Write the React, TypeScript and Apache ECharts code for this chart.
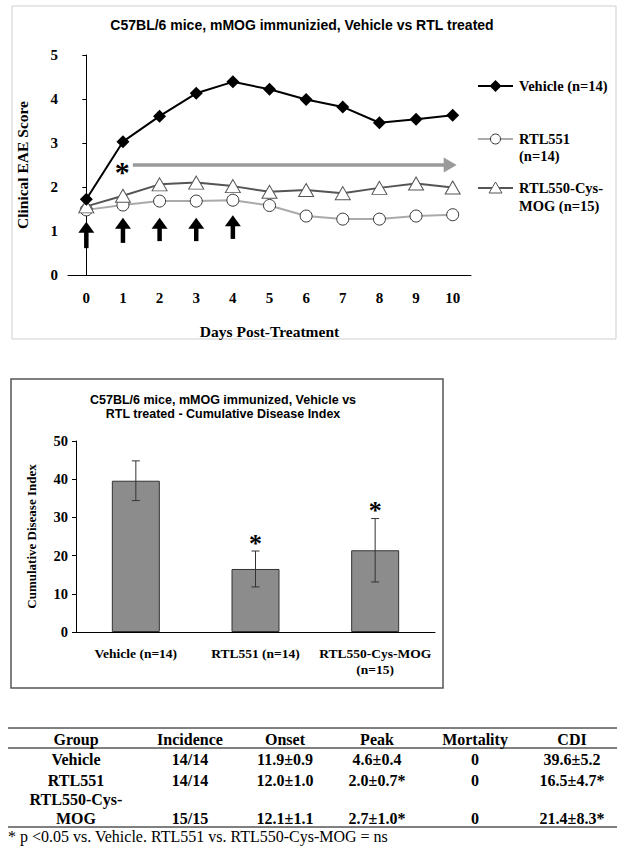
import React, { useEffect, useRef } from "react";
import * as echarts from "echarts";

// ---------- data ----------
const days = ["0", "1", "2", "3", "4", "5", "6", "7", "8", "9", "10"];
const vehicle = [1.72, 3.03, 3.61, 4.13, 4.39, 4.22, 3.99, 3.82, 3.46, 3.54, 3.63];
const rtl551 = [1.48, 1.59, 1.68, 1.68, 1.70, 1.58, 1.34, 1.27, 1.27, 1.34, 1.37];
const rtl550 = [1.56, 1.80, 2.06, 2.10, 2.02, 1.89, 1.93, 1.86, 1.98, 2.08, 1.99];
const seriesNames = ["Vehicle (n=14)", "RTL551\n(n=14)", "RTL550-Cys-\nMOG (n=15)"];

// treatment arrows: day, bottom, top (in score units)
const arrowDays = [0, 1, 2, 3, 4];
const arrowBottom = [0.61, 0.73, 0.77, 0.77, 0.82];
const arrowTop = [1.21, 1.3, 1.3, 1.3, 1.36];
// significance arrow: from day, to day, at score
const sigArrow = [1.27, 10.11, 2.5];
const sigStar = [0.98, 2.5];

const groups = ["Vehicle (n=14)", "RTL551 (n=14)", "RTL550-Cys-MOG\n(n=15)"];
const cdi = [39.6, 16.5, 21.4];
const cdiErr = [5.2, 4.7, 8.3];
const cdiSignificant = [0, 1, 1];

const tableHeader = ["Group", "Incidence", "Onset", "Peak", "Mortality", "CDI"];
const tableGroups = ["Vehicle", "RTL551", "RTL550-Cys-\nMOG"];
const tableIncidence = ["14/14", "14/14", "15/15"];
const tableOnset = ["11.9±0.9", "12.0±1.0", "12.1±1.1"];
const tablePeak = ["4.6±0.4", "2.0±0.7*", "2.7±1.0*"];
const tableMortality = ["0", "0", "0"];
const tableCdi = ["39.6±5.2", "16.5±4.7*", "21.4±8.3*"];
const footnote = "* p <0.05 vs. Vehicle. RTL551 vs. RTL550-Cys-MOG = ns";

const SERIF = "'Liberation Serif', 'Times New Roman', serif";
const SANS = "'Liberation Sans', Arial, sans-serif";

function arrowShape(a: number[], b: number[], color: string, w: number, hl: number, hw: number) {
  const dx = b[0] - a[0];
  const dy = b[1] - a[1];
  const len = Math.sqrt(dx * dx + dy * dy) || 1;
  const ux = dx / len;
  const uy = dy / len;
  const px = -uy;
  const py = ux;
  const bx = b[0] - ux * hl;
  const by = b[1] - uy * hl;
  return {
    type: "group",
    children: [
      {
        type: "line",
        shape: { x1: a[0], y1: a[1], x2: bx + ux, y2: by + uy },
        style: { stroke: color, lineWidth: w },
      },
      {
        type: "polygon",
        shape: {
          points: [
            [b[0], b[1]],
            [bx + px * hw, by + py * hw],
            [bx - px * hw, by - py * hw],
          ],
        },
        style: { fill: color },
      },
    ],
  };
}

export default function App() {
  const ref = useRef<HTMLDivElement>(null);

  useEffect(() => {
    if (!ref.current) return;
    const chart = echarts.init(ref.current, undefined, { renderer: "svg" });

    const axisLabelSerif = { fontFamily: SERIF, fontWeight: "bold", fontSize: 15, color: "#000" };

    // table graphics
    const colX = [76, 190, 285, 377, 475, 572];
    const rowY = [759, 780, 818];
    const tableEls: any[] = [];
    const tfont = `bold 16px ${SERIF}`;
    tableHeader.forEach((h, i) => {
      tableEls.push({
        type: "text",
        x: colX[i],
        y: 739,
        style: { text: h, font: tfont, fill: "#000", align: "center", verticalAlign: "middle" },
      });
    });
    const cols = [tableGroups, tableIncidence, tableOnset, tablePeak, tableMortality, tableCdi];
    cols.forEach((col, ci) => {
      col.forEach((v, ri) => {
        const multi = v.indexOf("\n") >= 0;
        tableEls.push({
          type: "text",
          x: colX[ci],
          y: multi ? rowY[ri] + 9.5 : rowY[ri],
          style: {
            text: v,
            font: tfont,
            fill: "#000",
            align: "center",
            verticalAlign: multi ? "bottom" : "middle",
            lineHeight: 19,
          },
        });
      });
    });
    [728, 748, 827].forEach((y) => {
      tableEls.push({
        type: "line",
        shape: { x1: 8, y1: y, x2: 617, y2: y },
        style: { stroke: "#000", lineWidth: 1 },
      });
    });
    tableEls.push({
      type: "text",
      x: 8,
      y: 836,
      style: { text: footnote, font: `16px ${SERIF}`, fill: "#000", align: "left", verticalAlign: "middle" },
    });

    // legend graphics
    const lfont = `bold 14.5px ${SERIF}`;
    const legendEls: any[] = [
      { type: "line", shape: { x1: 478, y1: 86, x2: 513, y2: 86 }, style: { stroke: "#000", lineWidth: 2 } },
      {
        type: "polygon",
        shape: { points: [[495.5, 80], [501.5, 86], [495.5, 92], [489.5, 86]] },
        style: { fill: "#000" },
      },
      {
        type: "text",
        x: 519,
        y: 86,
        style: { text: seriesNames[0], font: lfont, fill: "#000", align: "left", verticalAlign: "middle" },
      },
      { type: "line", shape: { x1: 478, y1: 139, x2: 513, y2: 139 }, style: { stroke: "#aaa", lineWidth: 2 } },
      {
        type: "circle",
        shape: { cx: 495.5, cy: 139, r: 5 },
        style: { fill: "#fff", stroke: "#333", lineWidth: 1 },
      },
      {
        type: "text",
        x: 519,
        y: 130,
        style: { text: seriesNames[1], font: lfont, fill: "#000", align: "left", verticalAlign: "top", lineHeight: 17 },
      },
      { type: "line", shape: { x1: 478, y1: 188, x2: 513, y2: 188 }, style: { stroke: "#555", lineWidth: 2 } },
      {
        type: "polygon",
        shape: { points: [[495.5, 182], [502, 193], [489, 193]] },
        style: { fill: "#fff", stroke: "#555", lineWidth: 1 },
      },
      {
        type: "text",
        x: 519,
        y: 179,
        style: { text: seriesNames[2], font: lfont, fill: "#000", align: "left", verticalAlign: "top", lineHeight: 18 },
      },
    ];

    const option: any = {
      animation: false,
      backgroundColor: "#fff",
      graphic: [
        // frames
        {
          type: "rect",
          shape: { x: 12, y: 6, width: 604, height: 333 },
          style: { fill: "none", stroke: "#cfcfcf", lineWidth: 1 },
        },
        {
          type: "rect",
          shape: { x: 11, y: 379, width: 432, height: 309 },
          style: { fill: "none", stroke: "#555", lineWidth: 1.5 },
        },
        {
          type: "text",
          x: 302,
          y: 25,
          style: {
            text: "C57BL/6 mice, mMOG immunizied, Vehicle vs RTL treated",
            font: `bold 14px ${SANS}`,
            fill: "#000",
            align: "center",
            verticalAlign: "middle",
          },
        },
        {
          type: "text",
          x: 223,
          y: 407,
          style: {
            text: "C57BL/6 mice, mMOG immunized, Vehicle vs\nRTL treated - Cumulative Disease Index",
            font: `bold 12.5px ${SANS}`,
            fill: "#000",
            align: "center",
            verticalAlign: "middle",
            lineHeight: 14,
          },
        },
        ...legendEls,
        ...tableEls,
      ],
      grid: [
        { left: 68, right: 153, top: 55, bottom: 578, outerBoundsMode: "none" },
        { left: 76, right: 189, top: 441, bottom: 221, outerBoundsMode: "none" },
      ],
      xAxis: [
        {
          type: "category",
          gridIndex: 0,
          data: days,
          boundaryGap: true,
          axisLine: { lineStyle: { color: "#000", width: 1 } },
          axisTick: { inside: true, length: 4, lineStyle: { color: "#000" } },
          axisLabel: { ...axisLabelSerif, margin: 15, interval: 0 },
          name: "Days Post-Treatment",
          nameLocation: "middle",
          nameGap: 48,
          nameTextStyle: { fontFamily: SERIF, fontWeight: "bold", fontSize: 15.5, color: "#000" },
        },
        {
          type: "value",
          gridIndex: 0,
          min: -0.5,
          max: 10.5,
          show: false,
        },
        {
          type: "category",
          gridIndex: 1,
          data: groups,
          axisLine: { lineStyle: { color: "#000", width: 1 } },
          axisTick: { length: 4, lineStyle: { color: "#000" } },
          axisLabel: {
            fontFamily: SERIF,
            fontWeight: "bold",
            fontSize: 13.5,
            color: "#000",
            margin: 13,
            lineHeight: 16,
            interval: 0,
            hideOverlap: false,
          },
        },
      ],
      yAxis: [
        {
          type: "value",
          gridIndex: 0,
          min: 0,
          max: 5,
          interval: 1,
          splitLine: { show: false },
          axisLine: { show: true, lineStyle: { color: "#000", width: 1 } },
          axisTick: { show: true, length: 4, lineStyle: { color: "#000" } },
          axisLabel: { ...axisLabelSerif, margin: 10 },
          name: "Clinical EAE Score",
          nameLocation: "middle",
          nameGap: 38,
          nameTextStyle: { fontFamily: SERIF, fontWeight: "bold", fontSize: 15.5, color: "#000" },
        },
        {
          type: "value",
          gridIndex: 1,
          min: 0,
          max: 50,
          interval: 10,
          splitLine: { show: false },
          axisLine: { show: true, lineStyle: { color: "#000", width: 1 } },
          axisTick: { show: true, length: 4, lineStyle: { color: "#000" } },
          axisLabel: { fontFamily: SERIF, fontWeight: "bold", fontSize: 14.5, color: "#000", margin: 8 },
          name: "Cumulative Disease Index",
          nameLocation: "middle",
          nameGap: 38,
          nameTextStyle: { fontFamily: SERIF, fontWeight: "bold", fontSize: 13, color: "#000" },
        },
      ],
      series: [
        {
          name: seriesNames[1],
          type: "line",
          xAxisIndex: 0,
          yAxisIndex: 0,
          data: rtl551,
          symbol: "circle",
          symbolSize: 12,
          lineStyle: { color: "#aaa", width: 2 },
          itemStyle: { color: "#fff", borderColor: "#333", borderWidth: 1 },
          z: 3,
        },
        {
          name: seriesNames[2],
          type: "line",
          xAxisIndex: 0,
          yAxisIndex: 0,
          data: rtl550,
          symbol: "triangle",
          symbolSize: [15, 13],
          lineStyle: { color: "#555", width: 2 },
          itemStyle: { color: "#fff", borderColor: "#555", borderWidth: 1 },
          z: 4,
        },
        {
          name: seriesNames[0],
          type: "line",
          xAxisIndex: 0,
          yAxisIndex: 0,
          data: vehicle,
          symbol: "diamond",
          symbolSize: 13,
          lineStyle: { color: "#000", width: 2 },
          itemStyle: { color: "#000" },
          z: 5,
        },
        {
          type: "custom",
          xAxisIndex: 1,
          yAxisIndex: 0,
          data: arrowDays.map((d, i) => [d, arrowBottom[i], arrowTop[i]]),
          encode: { x: 0, y: [1, 2] },
          renderItem: (params: any, api: any) => {
            const a = api.coord([api.value(0), api.value(1)]);
            const b = api.coord([api.value(0), api.value(2)]);
            return arrowShape(a, b, "#000", 4.5, 11, 8);
          },
          z: 6,
        },
        {
          type: "custom",
          xAxisIndex: 1,
          yAxisIndex: 0,
          data: [sigArrow],
          encode: { x: [0, 1], y: 2 },
          renderItem: (params: any, api: any) => {
            const a = api.coord([api.value(0), api.value(2)]);
            const b = api.coord([api.value(1), api.value(2)]);
            const star = api.coord(sigStar);
            return {
              type: "group",
              children: [
                arrowShape(a, b, "#9a9a9a", 3.5, 13, 7.5),
                {
                  type: "text",
                  x: star[0],
                  y: star[1] + 6,
                  style: {
                    text: "*",
                    font: `bold 30px ${SERIF}`,
                    fill: "#000",
                    align: "center",
                    verticalAlign: "middle",
                  },
                },
              ],
            };
          },
          z: 6,
        },
        {
          type: "bar",
          xAxisIndex: 2,
          yAxisIndex: 1,
          data: cdi,
          barWidth: 48,
          itemStyle: { color: "#8c8c8c", borderColor: "#333", borderWidth: 1 },
        },
        {
          type: "custom",
          xAxisIndex: 2,
          yAxisIndex: 1,
          data: cdi.map((v, i) => [i, v - cdiErr[i], v + cdiErr[i], cdiSignificant[i]]),
          encode: { x: 0, y: [1, 2] },
          renderItem: (params: any, api: any) => {
            const lo = api.coord([api.value(0), api.value(1)]);
            const hi = api.coord([api.value(0), api.value(2)]);
            const cw = 4;
            const st = { stroke: "#333", lineWidth: 1 };
            const children: any[] = [
              { type: "line", shape: { x1: lo[0], y1: lo[1], x2: hi[0], y2: hi[1] }, style: st },
              { type: "line", shape: { x1: lo[0] - cw, y1: lo[1], x2: lo[0] + cw, y2: lo[1] }, style: st },
              { type: "line", shape: { x1: hi[0] - cw, y1: hi[1], x2: hi[0] + cw, y2: hi[1] }, style: st },
            ];
            if (api.value(3)) {
              children.push({
                type: "text",
                x: hi[0],
                y: hi[1] - 8,
                style: {
                  text: "*",
                  font: `bold 26px ${SERIF}`,
                  fill: "#000",
                  align: "center",
                  verticalAlign: "middle",
                },
              });
            }
            return { type: "group", children };
          },
          z: 5,
        },
      ],
    };

    chart.setOption(option);
    return () => {
      chart.dispose();
    };
  }, []);

  return (
    <div
      ref={ref}
      style={{ position: "absolute", left: 0, top: 0, width: 624, height: 853, background: "#fff" }}
    />
  );
}
